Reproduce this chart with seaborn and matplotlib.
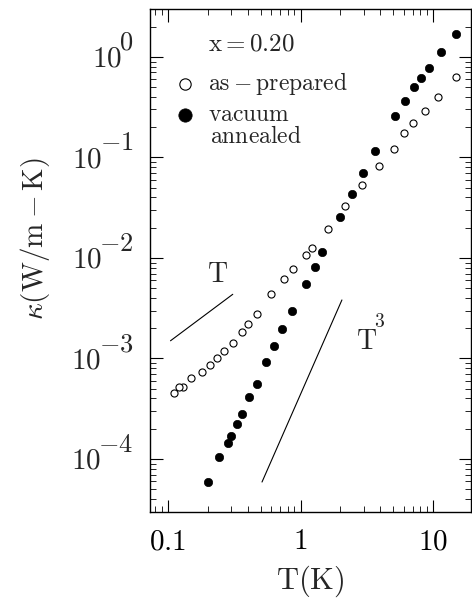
import matplotlib
matplotlib.use("Agg")
import matplotlib.pyplot as plt
import seaborn as sns
import numpy as np
import pandas as pd
from matplotlib.ticker import FixedLocator, FixedFormatter, LogLocator, NullFormatter

# ---- data ----
T_prepared = [14.7, 10.8, 8.71, 7.03, 6.01, 5.03, 3.90, 2.89, 2.17, 1.61, 1.23, 1.10,
              0.883, 0.747, 0.597, 0.468, 0.404, 0.361, 0.312, 0.267, 0.234, 0.207,
              0.182, 0.151, 0.131, 0.122, 0.112]
k_prepared = [0.628, 0.403, 0.292, 0.222, 0.177, 0.121, 0.0823, 0.0529, 0.0329, 0.0196,
              0.0125, 0.0108, 0.00778, 0.00623, 0.00435, 0.00277, 0.00220, 0.00184,
              0.00144, 0.00118, 0.00100, 0.000861, 0.000728, 0.000644, 0.000520,
              0.000516, 0.000451]
T_annealed = [14.8, 11.5, 9.33, 8.08, 7.12, 6.11, 5.17, 3.66, 2.97, 2.45, 1.97, 1.46, 1.29,
              1.10, 0.867, 0.726, 0.631, 0.553, 0.473, 0.410, 0.361, 0.331, 0.300, 0.283,
              0.243, 0.200]
k_annealed = [1.69, 1.13, 0.783, 0.618, 0.506, 0.365, 0.259, 0.117, 0.0701, 0.0437, 0.0254,
              0.0114, 0.00819, 0.00551, 0.00295, 0.00197, 0.00132, 0.000930, 0.000561,
              0.000417, 0.000282, 0.000225, 0.000171, 0.000145, 0.000105, 5.94e-5]
guide_T_x = [0.105, 0.309]
guide_T_y = [1.50e-3, 4.35e-3]
guide_T3_x = [0.513, 2.05]
guide_T3_y = [5.9e-5, 3.82e-3]

x_ticks = [0.1, 1, 10]
x_tick_labels = [r"$\mathrm{0.1}$", r"$\mathrm{1}$", r"$\mathrm{10}$"]
y_ticks = [1e-4, 1e-3, 1e-2, 1e-1, 1e0]
y_tick_base = "10"
y_tick_exponents = ["-4", "-3", "-2", "-1", "0"]

df_prep = pd.DataFrame({"T": T_prepared, "kappa": k_prepared})
df_ann = pd.DataFrame({"T": T_annealed, "kappa": k_annealed})
df_gT = pd.DataFrame({"T": guide_T_x, "kappa": guide_T_y})
df_gT3 = pd.DataFrame({"T": guide_T3_x, "kappa": guide_T3_y})

sns.set_theme(style="ticks")
plt.rcParams["font.family"] = ["serif"]
plt.rcParams["font.serif"] = ["cmr10", "DejaVu Serif"]
plt.rcParams["mathtext.fontset"] = "cm"
plt.rcParams["axes.formatter.use_mathtext"] = True

fig = plt.figure(figsize=(4.72, 6.01), dpi=100)
ax = fig.add_axes([0.3178, 0.1481, 0.680, 0.837])

sns.scatterplot(data=df_prep, x="T", y="kappa", ax=ax, marker="o", s=26,
                color="white", edgecolor="black", linewidth=0.8,
                label=r"$\mathrm{as-prepared}$", zorder=3)
sns.scatterplot(data=df_ann, x="T", y="kappa", ax=ax, marker="o", s=36,
                color="black", edgecolor="black", linewidth=0.5,
                label=r"$\mathrm{vacuum}$", zorder=3)
sns.lineplot(data=df_gT, x="T", y="kappa", ax=ax, color="black", linewidth=0.8,
             estimator=None, sort=False, legend=False)
sns.lineplot(data=df_gT3, x="T", y="kappa", ax=ax, color="black", linewidth=0.8,
             estimator=None, sort=False, legend=False)

ax.set_xscale("log")
ax.set_yscale("log")
ax.set_xlim(0.0736, 19.2)
ax.set_ylim(2.97e-5, 3.0)

ax.xaxis.set_major_locator(FixedLocator(x_ticks))
ax.xaxis.set_major_formatter(FixedFormatter(x_tick_labels))
ax.yaxis.set_major_locator(FixedLocator(y_ticks))
ax.yaxis.set_major_formatter(NullFormatter())
ax.xaxis.set_minor_locator(LogLocator(base=10, subs=np.arange(2, 10), numticks=20))
ax.yaxis.set_minor_locator(LogLocator(base=10, subs=np.arange(2, 10), numticks=20))
ax.xaxis.set_minor_formatter(NullFormatter())
ax.yaxis.set_minor_formatter(NullFormatter())

ax.tick_params(which="both", direction="in", top=True, right=True, colors="black")
ax.tick_params(which="major", length=9, width=0.8)
ax.tick_params(which="minor", length=4.5, width=0.6)
ax.tick_params(axis="x", which="major", labelsize=21, pad=12)

for sp in ax.spines.values():
    sp.set_linewidth(1.0)
    sp.set_color("black")

# y tick labels: "10" with a near full-size raised exponent
ytrans = ax.get_yaxis_transform()
for v, e in zip(y_ticks, y_tick_exponents):
    exp_txt = ax.annotate(r"$%s$" % e, xy=(0, v), xycoords=ytrans,
                          xytext=(-12, 5.0), textcoords="offset points",
                          ha="right", va="baseline", fontsize=19)
    ax.annotate(r"$\mathrm{%s}$" % y_tick_base, xy=(0, v), xycoords=(exp_txt, ytrans),
                xytext=(2, -7.0), textcoords="offset points",
                ha="right", va="baseline", fontsize=21)

ax.set_xlabel(r"$\mathrm{T(K)}$", fontsize=22, labelpad=6)
ax.set_ylabel(r"$\kappa(\mathrm{W/m-K})$", fontsize=21)
ax.yaxis.set_label_coords(-0.305, 0.544)

ax.text(0.18, 0.93, r"$\mathrm{x=0.20}$", transform=ax.transAxes, fontsize=18,
        ha="left", va="center")

leg = ax.legend(loc="upper left", bbox_to_anchor=(0.042, 0.897), frameon=False,
                fontsize=17, markerscale=1.6, handletextpad=0.5, labelspacing=0.27,
                handlelength=1.0, borderaxespad=0.0)
ax.annotate(r"$\mathrm{annealed}$", xy=(0, 0), xycoords=leg.get_texts()[1],
            xytext=(1.5, 0.0), textcoords="offset points", ha="left", va="top",
            fontsize=17, zorder=10)

ax.text(0.239, 6.8e-3, r"$\mathrm{T}$", fontsize=20, ha="center", va="center")
ax.text(2.6, 1.48e-3, r"$\mathrm{T}$", fontsize=20, ha="left", va="center")
ax.annotate(r"$\mathrm{3}$", xy=(2.6, 1.48e-3), xytext=(13.5, 7.5),
            textcoords="offset points", fontsize=14, ha="left", va="bottom")

fig.savefig("out.png", dpi=100)
